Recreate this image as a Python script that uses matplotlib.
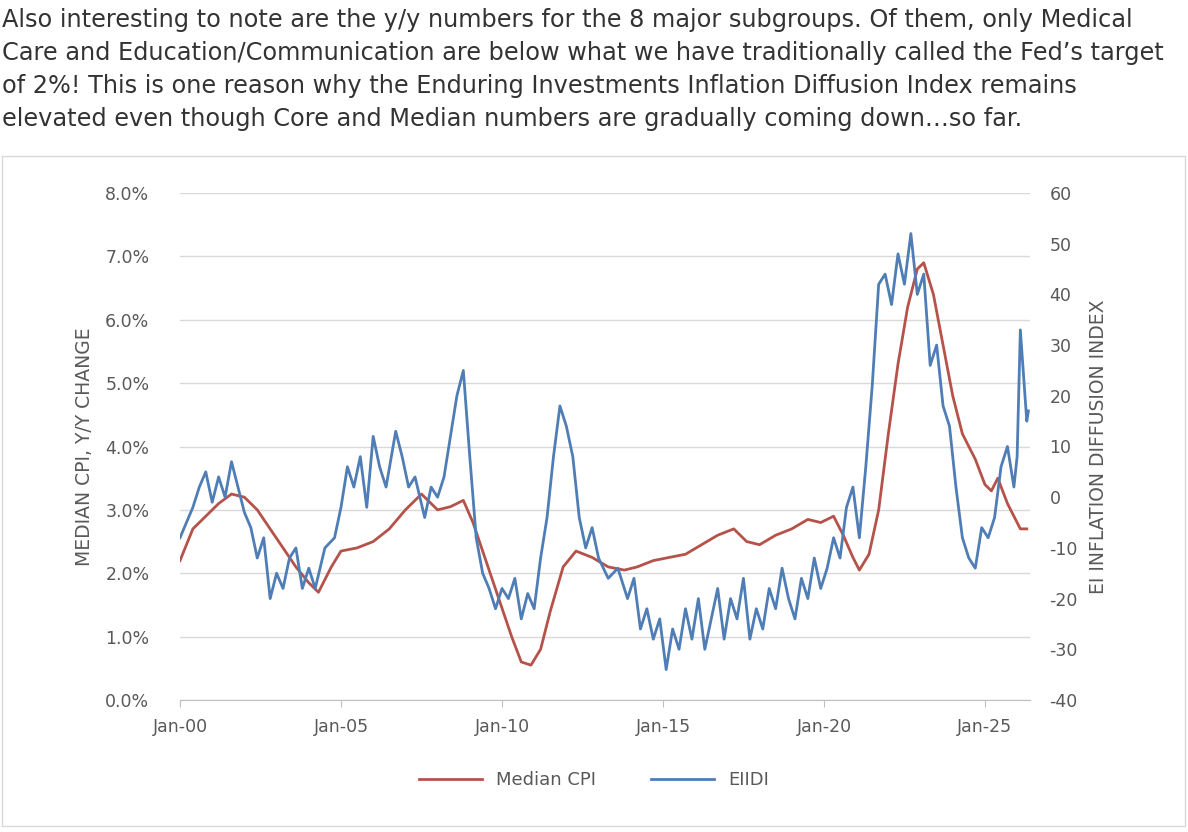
import matplotlib.pyplot as plt
from matplotlib.patches import Rectangle
import numpy as np

plt.rcParams["axes.unicode_minus"] = False

paragraph = [
    "Also interesting to note are the y/y numbers for the 8 major subgroups. Of them, only Medical",
    "Care and Education/Communication are below what we have traditionally called the Fed\u2019s target",
    "of 2%! This is one reason why the Enduring Investments Inflation Diffusion Index remains",
    "elevated even though Core and Median numbers are gradually coming down\u2026so far.",
]

# Median CPI, y/y % (decimal year, value)
cpi_t = [2000.0, 2000.4, 2000.8, 2001.2, 2001.6, 2002.0, 2002.4, 2002.8, 2003.2, 2003.6,
         2004.0, 2004.3, 2004.7, 2005.0, 2005.5, 2006.0, 2006.5, 2007.0, 2007.5, 2008.0,
         2008.4, 2008.8, 2009.1, 2009.5, 2009.9, 2010.3, 2010.6, 2010.9, 2011.2, 2011.5,
         2011.9, 2012.3, 2012.8, 2013.3, 2013.8, 2014.2, 2014.7, 2015.2, 2015.7, 2016.2,
         2016.7, 2017.2, 2017.6, 2018.0, 2018.5, 2019.0, 2019.5, 2019.9, 2020.3, 2020.6,
         2020.9, 2021.1, 2021.4, 2021.7, 2022.0, 2022.3, 2022.6, 2022.9, 2023.1, 2023.4,
         2023.7, 2024.0, 2024.3, 2024.7, 2025.0, 2025.2, 2025.4, 2025.7, 2025.9, 2026.1, 2026.3]
cpi_v = [2.2, 2.7, 2.9, 3.1, 3.25, 3.2, 3.0, 2.7, 2.4, 2.1,
         1.85, 1.7, 2.1, 2.35, 2.4, 2.5, 2.7, 3.0, 3.25, 3.0,
         3.05, 3.15, 2.8, 2.2, 1.6, 1.0, 0.6, 0.55, 0.8, 1.4,
         2.1, 2.35, 2.25, 2.1, 2.05, 2.1, 2.2, 2.25, 2.3, 2.45,
         2.6, 2.7, 2.5, 2.45, 2.6, 2.7, 2.85, 2.8, 2.9, 2.6,
         2.25, 2.05, 2.3, 3.0, 4.2, 5.3, 6.2, 6.8, 6.9, 6.4,
         5.6, 4.8, 4.2, 3.8, 3.4, 3.3, 3.5, 3.1, 2.9, 2.7, 2.7]

# EIIDI (decimal year, value)
ei_t = [2000.0, 2000.2, 2000.4, 2000.6, 2000.8, 2001.0, 2001.2, 2001.4, 2001.6, 2001.8,
        2002.0, 2002.2, 2002.4, 2002.6, 2002.8, 2003.0, 2003.2, 2003.4, 2003.6, 2003.8,
        2004.0, 2004.2, 2004.5, 2004.8, 2005.0, 2005.2, 2005.4, 2005.6, 2005.8, 2006.0,
        2006.2, 2006.4, 2006.7, 2006.9, 2007.1, 2007.3, 2007.6, 2007.8, 2008.0, 2008.2,
        2008.4, 2008.6, 2008.8, 2009.0, 2009.2, 2009.4, 2009.6, 2009.8, 2010.0, 2010.2,
        2010.4, 2010.6, 2010.8, 2011.0, 2011.2, 2011.4, 2011.6, 2011.8, 2012.0, 2012.2,
        2012.4, 2012.6, 2012.8, 2013.0, 2013.3, 2013.6, 2013.9, 2014.1, 2014.3, 2014.5,
        2014.7, 2014.9, 2015.1, 2015.3, 2015.5, 2015.7, 2015.9, 2016.1, 2016.3, 2016.5,
        2016.7, 2016.9, 2017.1, 2017.3, 2017.5, 2017.7, 2017.9, 2018.1, 2018.3, 2018.5,
        2018.7, 2018.9, 2019.1, 2019.3, 2019.5, 2019.7, 2019.9, 2020.1, 2020.3, 2020.5,
        2020.7, 2020.9, 2021.1, 2021.3, 2021.5, 2021.7, 2021.9, 2022.1, 2022.3, 2022.5,
        2022.7, 2022.9, 2023.1, 2023.3, 2023.5, 2023.7, 2023.9, 2024.1, 2024.3, 2024.5,
        2024.7, 2024.9, 2025.1, 2025.3, 2025.5, 2025.7, 2025.9, 2026.0, 2026.1, 2026.2, 2026.3, 2026.35]
ei_v = [-8, -5, -2, 2, 5, -1, 4, 0, 7, 2,
        -3, -6, -12, -8, -20, -15, -18, -12, -10, -18,
        -14, -18, -10, -8, -2, 6, 2, 8, -2, 12,
        6, 2, 13, 8, 2, 4, -4, 2, 0, 4,
        12, 20, 25, 8, -8, -15, -18, -22, -18, -20,
        -16, -24, -19, -22, -12, -4, 8, 18, 14, 8,
        -4, -10, -6, -12, -16, -14, -20, -16, -26, -22,
        -28, -24, -34, -26, -30, -22, -28, -20, -30, -24,
        -18, -28, -20, -24, -16, -28, -22, -26, -18, -22,
        -14, -20, -24, -16, -20, -12, -18, -14, -8, -12,
        -2, 2, -8, 6, 22, 42, 44, 38, 48, 42,
        52, 40, 44, 26, 30, 18, 14, 2, -8, -12,
        -14, -6, -8, -4, 6, 10, 2, 8, 33, 24, 15, 17]

ticks = [2000, 2005, 2010, 2015, 2020, 2025]
tick_labels = ["Jan-00", "Jan-05", "Jan-10", "Jan-15", "Jan-20", "Jan-25"]

gray = "#595959"
red = "#B5524A"
blue = "#4F7DB5"

fig = plt.figure(figsize=(11.88, 8.32), dpi=100)
for i, line in enumerate(paragraph):
    fig.text(0.002, 1 - (20 + 33 * i) / 832, line, fontsize=17.3, color="#333333",
             va="center", ha="left", family="DejaVu Sans")

fig.patches.append(Rectangle((2 / 1188, 6 / 832), 1183 / 1188, 670 / 832,
                             transform=fig.transFigure, fill=False, ec="#d9d9d9", lw=1))

ax1 = fig.add_axes([180 / 1188, 1 - 700 / 832, 850 / 1188, 507 / 832])
ax2 = ax1.twinx()

l1, = ax1.plot(cpi_t, cpi_v, color=red, lw=2.0, label="Median CPI")
l2, = ax2.plot(ei_t, ei_v, color=blue, lw=2.0, label="EIIDI")

ax1.set_xlim(2000, 2026.4)
ax1.set_ylim(0, 8)
ax2.set_ylim(-40, 60)
ax1.set_yticks(np.arange(0, 8.1, 1))
ax1.set_yticklabels([f"{v:.1f}%" for v in np.arange(0, 8.1, 1)])
ax2.set_yticks(range(-40, 61, 10))
ax1.set_xticks(ticks)
ax1.set_xticklabels(tick_labels)
ax1.grid(axis="y", color="#d9d9d9", lw=1)
ax1.set_axisbelow(True)

for ax in (ax1, ax2):
    for s in ax.spines.values():
        s.set_visible(False)
    ax.tick_params(colors=gray, labelsize=12.5, length=0)
ax1.spines["bottom"].set_visible(True)
ax1.spines["bottom"].set_color("#bfbfbf")
ax1.tick_params(axis="x", length=5, color="#bfbfbf", pad=8)
ax1.tick_params(axis="y", pad=22)
ax2.tick_params(axis="y", pad=14)

ax1.set_ylabel("MEDIAN CPI, Y/Y CHANGE", color=gray, fontsize=13.5, labelpad=8)
ax2.set_ylabel("EI INFLATION DIFFUSION INDEX", color=gray, fontsize=13.5, labelpad=8)

fig.legend(handles=[l1, l2], loc="center", bbox_to_anchor=(0.5, 1 - 780 / 832),
           ncol=2, frameon=False, fontsize=13, labelcolor=gray, handlelength=3.5,
           columnspacing=3)

fig.savefig("out.png", dpi=100)
